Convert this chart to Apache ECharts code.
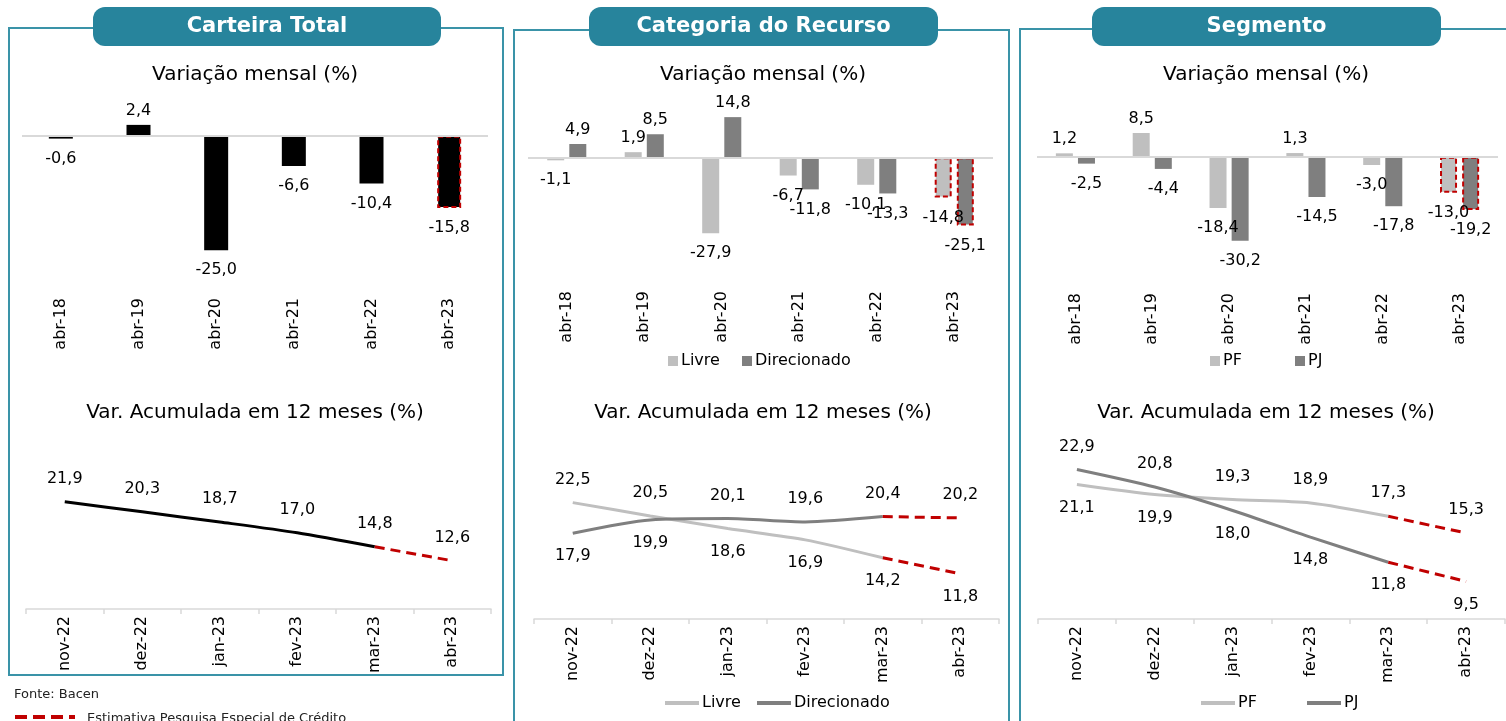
<!DOCTYPE html>
<html>
<head>
<meta charset="utf-8">
<script src="https://cdn.jsdelivr.net/npm/echarts@6/dist/echarts.min.js"></script>
<style>
  html, body { margin: 0; padding: 0; background: #fff; }
  #main { width: 1506px; height: 721px; }
</style>
</head>
<body>
<div id="main"></div>
<script>
// categorias
const barCats = ["abr-18", "abr-19", "abr-20", "abr-21", "abr-22", "abr-23"];
const lineCats = ["nov-22", "dez-22", "jan-23", "fev-23", "mar-23", "abr-23"];

// variação mensal (%)
const totalMensal = [-0.6, 2.4, -25.0, -6.6, -10.4, -15.8];
const livreMensal = [-1.1, 1.9, -27.9, -6.7, -10.1, -14.8];
const direcMensal = [4.9, 8.5, 14.8, -11.8, -13.3, -25.1];
const pfMensal = [1.2, 8.5, -18.4, 1.3, -3.0, -13.0];
const pjMensal = [-2.5, -4.4, -30.2, -14.5, -17.8, -19.2];

// var. acumulada em 12 meses (%)
const total12m = [21.9, 20.3, 18.7, 17.0, 14.8, 12.6];
const livre12m = [22.5, 20.5, 18.6, 16.9, 14.2, 11.8];
const direc12m = [17.9, 19.9, 20.1, 19.6, 20.4, 20.2];
const pf12m = [21.1, 19.9, 19.3, 18.9, 17.3, 15.3];
const pj12m = [22.9, 20.8, 18.0, 14.8, 11.8, 9.5];

const FONT = "DejaVu Sans";
const RED = "#c00000";
const TEAL = "#27849c";
const BORDER = "#3a93a8";
const LIGHT = "#bfbfbf";
const DARK = "#7f7f7f";
const CLEAR = "rgba(0,0,0,0)";

const fmt = (v) => v.toFixed(1).replace(".", ",");
const last = barCats.length - 1;

// barras: rótulo acima/abaixo conforme o sinal, última barra = estimativa
function barData(values) {
  return values.map((v, i) => {
    let item = {
      value: v,
      label: v >= 0 ? { position: "top", distance: 6 } : { position: "bottom", distance: 12 },
    };
    if (i === last) {
      item.itemStyle = { borderColor: RED, borderWidth: 2, borderType: [5, 3] };
    }
    return item;
  });
}

function barSeries(name, values, color, idx, width, zeroLine) {
  let s = {
    name: name,
    type: "bar",
    xAxisIndex: idx,
    yAxisIndex: idx,
    barWidth: width,
    barGap: "30%",
    itemStyle: { color: color },
    label: {
      show: true,
      color: "#000",
      fontFamily: FONT,
      fontSize: 16,
      formatter: (p) => fmt(p.value),
    },
    data: barData(values),
  };
  if (zeroLine) {
    s.markLine = {
      silent: true,
      symbol: ["none", "none"],
      label: { show: false },
      lineStyle: { color: "#d9d9d9", width: 2, type: "solid" },
      data: [{ yAxis: 0 }],
    };
  }
  return s;
}

// linhas: trecho realizado (sólido) + estimativa (tracejado vermelho)
function lineSeries(name, values, other, color, idx) {
  const pos = (i) => (!other || values[i] >= other[i] ? "top" : "bottom");
  const lbl = {
    show: true,
    distance: 14,
    color: "#000",
    fontFamily: FONT,
    fontSize: 16,
    formatter: (p) => fmt(p.value),
  };
  const solid = values.map((v, i) =>
    i < last ? { value: v, label: { position: pos(i) } } : "-"
  );
  const dashed = values.map((v, i) => {
    if (i < last - 1) return "-";
    if (i === last - 1) return { value: v, label: { show: false } };
    return { value: v, label: { position: pos(i) } };
  });
  return [
    {
      name: name,
      type: "line",
      xAxisIndex: idx,
      yAxisIndex: idx,
      symbol: "circle",
      symbolSize: 2,
      showSymbol: true,
      smooth: 0.25,
      lineStyle: { color: color, width: 3 },
      itemStyle: { color: CLEAR, borderWidth: 0 },
      label: lbl,
      data: solid,
    },
    {
      name: name + " est",
      type: "line",
      xAxisIndex: idx,
      yAxisIndex: idx,
      symbol: "circle",
      symbolSize: 2,
      showSymbol: true,
      lineStyle: { color: RED, width: 3, type: [10, 6] },
      itemStyle: { color: CLEAR, borderWidth: 0 },
      label: lbl,
      data: dashed,
    },
  ];
}

// grids: 0-2 barras, 3-5 linhas
const grids = [
  { left: 22, top: 113, width: 466, height: 160 },
  { left: 528, top: 103, width: 465, height: 163 },
  { left: 1037, top: 101, width: 461, height: 167 },
  { left: 26, top: 482, width: 465, height: 127 },
  { left: 534, top: 486, width: 465, height: 133 },
  { left: 1038, top: 452, width: 467, height: 167 },
];
const yRanges = [[-30, 5], [-40, 20], [-40, 20], [5, 25], [5, 25], [5, 25]];

const xAxes = grids.map((g, i) => {
  const isBar = i < 3;
  return {
    type: "category",
    gridIndex: i,
    data: isBar ? barCats : lineCats,
    position: "bottom",
    axisLine: {
      show: !isBar,
      onZero: false,
      lineStyle: { color: "#d9d9d9", width: 1.5 },
    },
    axisTick: { show: !isBar, length: 5, lineStyle: { color: "#d9d9d9", width: 1.5 } },
    axisLabel: {
      rotate: 90,
      margin: isBar ? 25 : 7,
      color: "#000",
      fontFamily: FONT,
      fontSize: 16,
      interval: 0,
    },
  };
});

const yAxes = grids.map((g, i) => ({
  type: "value",
  gridIndex: i,
  min: yRanges[i][0],
  max: yRanges[i][1],
  show: false,
}));

const series = [
  barSeries("Total", totalMensal, "#000", 0, 24, true),
  barSeries("Livre", livreMensal, LIGHT, 1, 17, true),
  barSeries("Direcionado", direcMensal, DARK, 1, 17, false),
  barSeries("PF", pfMensal, LIGHT, 2, 17, true),
  barSeries("PJ", pjMensal, DARK, 2, 17, false),
  ...lineSeries("Total 12m", total12m, null, "#000", 3),
  ...lineSeries("Livre", livre12m, direc12m, LIGHT, 4),
  ...lineSeries("Direcionado", direc12m, livre12m, DARK, 4),
  ...lineSeries("PF", pf12m, pj12m, LIGHT, 5),
  ...lineSeries("PJ", pj12m, pf12m, DARK, 5),
];

function legendItem(name, left, top, isLine, color) {
  return {
    data: [{ name: name, itemStyle: { color: color } }],
    left: left,
    top: top,
    icon: "rect",
    itemWidth: isLine ? 34 : 10,
    itemHeight: isLine ? 4 : 10,
    itemGap: 0,
    selectedMode: false,
    textStyle: { color: "#000", fontFamily: FONT, fontSize: 16, padding: [0, 0, 0, -2] },
  };
}

const legends = [
  legendItem("Livre", 663, 348, false, LIGHT),
  legendItem("Direcionado", 737, 348, false, DARK),
  legendItem("PF", 1205, 348, false, LIGHT),
  legendItem("PJ", 1290, 348, false, DARK),
  legendItem("Livre", 660, 690, true, LIGHT),
  legendItem("Direcionado", 752, 690, true, DARK),
  legendItem("PF", 1196, 690, true, LIGHT),
  legendItem("PJ", 1302, 690, true, DARK),
];

// molduras, cabeçalhos e títulos
const panels = [
  { x: 9, y: 28, w: 494, h: 647, pill: [93, 441], title: "Carteira Total", cx: 255 },
  { x: 514, y: 30, w: 495, h: 740, pill: [589, 938], title: "Categoria do Recurso", cx: 763 },
  { x: 1020, y: 29, w: 520, h: 740, pill: [1092, 1441], title: "Segmento", cx: 1266 },
];

const graphic = [];
panels.forEach((p) => {
  graphic.push({
    type: "rect",
    shape: { x: p.x, y: p.y, width: p.w, height: p.h },
    style: { fill: "none", stroke: BORDER, lineWidth: 2 },
    z: 1,
  });
  graphic.push({
    type: "rect",
    shape: { x: p.pill[0], y: 7, width: p.pill[1] - p.pill[0], height: 39, r: 12 },
    style: { fill: TEAL },
    z: 2,
  });
  graphic.push({
    type: "text",
    x: (p.pill[0] + p.pill[1]) / 2,
    y: 27,
    style: {
      text: p.title,
      fill: "#fff",
      font: "bold 21px '" + FONT + "'",
      textAlign: "center",
      textVerticalAlign: "middle",
    },
    z: 3,
  });
  graphic.push({
    type: "text",
    x: p.cx,
    y: 75,
    style: {
      text: "Variação mensal (%)",
      fill: "#000",
      font: "20px '" + FONT + "'",
      textAlign: "center",
      textVerticalAlign: "middle",
    },
    z: 3,
  });
  graphic.push({
    type: "text",
    x: p.cx,
    y: 413,
    style: {
      text: "Var. Acumulada em 12 meses (%)",
      fill: "#000",
      font: "20px '" + FONT + "'",
      textAlign: "center",
      textVerticalAlign: "middle",
    },
    z: 3,
  });
});

graphic.push({
  type: "text",
  x: 14,
  y: 695,
  style: { text: "Fonte: Bacen", fill: "#222", font: "13px '" + FONT + "'", textVerticalAlign: "middle" },
});
graphic.push({
  type: "line",
  shape: { x1: 15, y1: 717, x2: 75, y2: 717 },
  style: { stroke: RED, lineWidth: 4, lineDash: [12, 6] },
});
graphic.push({
  type: "text",
  x: 87,
  y: 719,
  style: {
    text: "Estimativa Pesquisa Especial de Crédito",
    fill: "#222",
    font: "13px '" + FONT + "'",
    textVerticalAlign: "middle",
  },
});

const chart = echarts.init(document.getElementById("main"));
chart.setOption({
  animation: false,
  textStyle: { fontFamily: FONT },
  grid: grids,
  xAxis: xAxes,
  yAxis: yAxes,
  legend: legends,
  series: series,
  graphic: graphic,
});
</script>
</body>
</html>
